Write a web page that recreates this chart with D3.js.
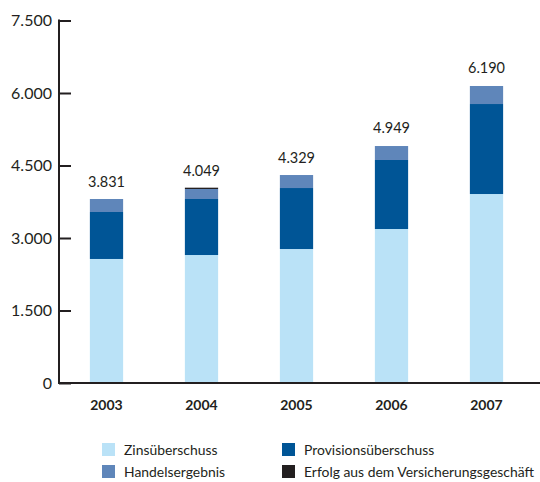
<!DOCTYPE html>
<html>
<head>
<meta charset="utf-8">
<script src="https://cdn.jsdelivr.net/npm/d3@7"></script>
<style>
  body { margin: 0; background: #fff; }
  svg text { font-family: Lato, "Open Sans", sans-serif; fill: #231f20; }
</style>
</head>
<body>
<svg id="chart" width="540" height="482"></svg>
<script>
// chart data
const years = ['2003', '2004', '2005', '2006', '2007'];
const zinsueberschuss = [2566, 2648, 2772, 3186, 3910];
const provisionsueberschuss = [972, 1159, 1262, 1428, 1862];
const handelsergebnis = [269, 207, 269, 289, 373];
const versicherung = [0, 27, 0, 0, 0];
const totals = [3831, 4049, 4329, 4949, 6190];
const yTicks = [0, 1500, 3000, 4500, 6000, 7500];

const seriesNames = ['Zinsüberschuss', 'Provisionsüberschuss', 'Handelsergebnis', 'Erfolg aus dem Versicherungsgeschäft'];
const seriesColors = ['#bae2f7', '#005596', '#5f86ba', '#231f20'];
const seriesValues = [zinsueberschuss, provisionsueberschuss, handelsergebnis, versicherung];

const svg = d3.select('#chart');

// build rows for the stack layout
let rows = years.map(function(y, i) {
    let row = { year: y };
    seriesNames.forEach(function(n, k) { row[n] = seriesValues[k][i]; });
    return row;
});
let stacked = d3.stack().keys(seriesNames)(rows);

let x = d3.scaleBand()
    .domain(years)
    .range([59, 534])
    .paddingInner(0.65)
    .paddingOuter(0.325);
let y = d3.scaleLinear()
    .domain([0, 7500])
    .range([383, 20.5]);

// german number format: dot as thousands separator
let fmt = function(v) { return d3.format(',')(v).replace(/,/g, '.'); };

// bars
let layers = svg.append('g').attr('class', 'bars')
    .selectAll('g')
    .data(stacked)
    .enter().append('g')
    .attr('fill', function(d, i) { return seriesColors[i]; });
layers.selectAll('rect')
    .data(function(d) { return d; })
    .enter().append('rect')
    .attr('x', function(d) { return x(d.data.year); })
    .attr('width', x.bandwidth())
    .attr('y', function(d) { return y(d[1]); })
    .attr('height', function(d) { return y(d[0]) - y(d[1]); });

// total labels above each bar
svg.append('g').selectAll('text')
    .data(totals)
    .enter().append('text')
    .attr('x', function(d, i) { return x(years[i]) + x.bandwidth() / 2; })
    .attr('y', function(d) { return y(d) - 11; })
    .attr('text-anchor', 'middle')
    .attr('font-size', 14.5)
    .text(fmt);

// y axis: ticks point inward
let yAxis = svg.append('g')
    .attr('transform', 'translate(59,0)')
    .call(d3.axisRight(y).tickValues(yTicks).tickSize(12).tickFormat(''));
yAxis.select('.domain').remove();
yAxis.selectAll('.tick line').attr('stroke', '#231f20').attr('stroke-width', 2);
svg.append('line')
    .attr('x1', 59).attr('x2', 59)
    .attr('y1', y(7500) - 1).attr('y2', y(0) + 1)
    .attr('stroke', '#231f20').attr('stroke-width', 2);

svg.append('g').selectAll('text')
    .data(yTicks)
    .enter().append('text')
    .attr('x', 52)
    .attr('y', function(d) { return y(d); })
    .attr('dy', '0.36em')
    .attr('text-anchor', 'end')
    .attr('font-size', 16)
    .text(fmt);

// x axis baseline
svg.append('line')
    .attr('x1', 58).attr('x2', 540)
    .attr('y1', y(0)).attr('y2', y(0))
    .attr('stroke', '#231f20').attr('stroke-width', 2);

svg.append('g').selectAll('text')
    .data(years)
    .enter().append('text')
    .attr('x', function(d) { return x(d) + x.bandwidth() / 2; })
    .attr('y', 410)
    .attr('text-anchor', 'middle')
    .attr('font-size', 14)
    .attr('font-weight', 'bold')
    .text(function(d) { return d; });

// legend, two columns
let legend = svg.append('g').selectAll('g')
    .data(seriesNames)
    .enter().append('g')
    .attr('transform', function(d, i) {
        return 'translate(' + (i % 2 ? 282 : 102) + ',' + (i < 2 ? 443 : 465) + ')';
    });
legend.append('rect')
    .attr('width', 13).attr('height', 13)
    .attr('fill', function(d, i) { return seriesColors[i]; });
legend.append('text')
    .attr('x', 22)
    .attr('y', 7)
    .attr('dy', '0.35em')
    .attr('font-size', 13.9)
    .text(function(d) { return d; });
</script>
</body>
</html>
